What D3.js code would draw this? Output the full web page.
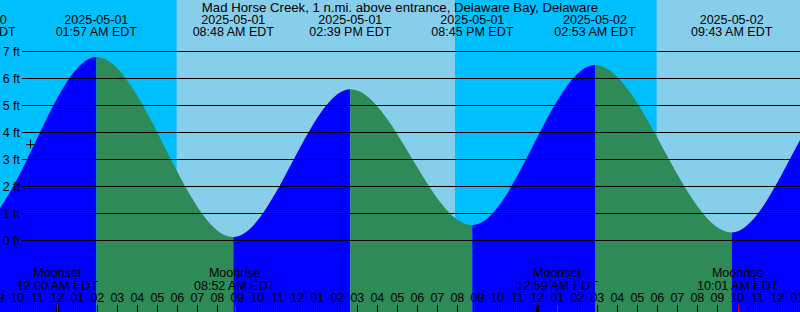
<!DOCTYPE html>
<html>
<head>
<meta charset="utf-8">
<script src="https://cdn.jsdelivr.net/npm/d3@7"></script>
<style>
  body { margin: 0; background: #fff; }
  svg { display: block; font-family: "Liberation Sans", Arial, sans-serif; font-size: 12.5px; }
</style>
</head>
<body>
<svg id="chart" width="800" height="312"></svg>
<script>
// title
const TITLE = 'Mad Horse Creek, 1 n.mi. above entrance, Delaware Bay, Delaware';

// tide extremes (local time, EDT)
const tideTimes = ['2025-04-30 13:40', '2025-04-30 19:52', '2025-05-01 01:57', '2025-05-01 08:48',
    '2025-05-01 14:39', '2025-05-01 20:45', '2025-05-02 02:53', '2025-05-02 09:43',
    '2025-05-02 15:40', '2025-05-02 21:50'];
const tideHeights = [5.5, 0.5, 6.8, 0.13, 5.6, 0.57, 6.5, 0.3, 5.9, 0.6];

// sun
const sunriseTimes = ['2025-05-01 05:58', '2025-05-02 05:58'];
const sunsetTimes = ['2025-04-30 19:52', '2025-05-01 19:53'];

// moon
const moonTimes = ['2025-05-01 00:00', '2025-05-01 08:52', '2025-05-02 00:59', '2025-05-02 10:01'];
const moonLabels = ['Moonset', 'Moonrise', 'Moonset', 'Moonrise'];

// "now" mark
const nowTime = '2025-04-30 22:38';
const nowHeight = 3.55;

const heightTicks = [0, 1, 2, 3, 4, 5, 6, 7];
const timeStart = '2025-04-30 21:08';
const timeEnd = '2025-05-02 13:08';

const WIDTH = 800;
const HEIGHT = 312;
const COLOR_NIGHT = '#00bfff';
const COLOR_DAY = '#87ceeb';
const COLOR_RISE = '#0000ff';
const COLOR_FALL = '#2e8b57';

const parse = d3.utcParse('%Y-%m-%d %H:%M');
const fmtDate = d3.utcFormat('%Y-%m-%d');
const fmtTime = d3.utcFormat('%I:%M %p EDT');
const fmtHour = d3.utcFormat('%I');

const x = d3.scaleUtc()
    .domain([parse(timeStart), parse(timeEnd)])
    .range([0, WIDTH]);
const y = d3.scaleLinear()
    .domain([0, 7])
    .range([240.5, 51.5]);

const svg = d3.select('#chart');
const defs = svg.append('defs');

// day / night background
svg.append('rect')
    .attr('width', WIDTH).attr('height', HEIGHT)
    .attr('fill', COLOR_NIGHT);
sunriseTimes.forEach(function (rise) {
    let t0 = parse(rise);
    let set = sunsetTimes.map(parse).find(d => d > t0) || x.domain()[1];
    svg.append('rect')
        .attr('x', x(t0))
        .attr('width', x(set) - x(t0))
        .attr('y', 0).attr('height', HEIGHT)
        .attr('fill', COLOR_DAY);
});

// tide curve, coloured by rising / falling
const tide = tideTimes.map((t, i) => ({ t: parse(t), h: tideHeights[i] }));
const area = d3.area()
    .x(d => x(d.t))
    .y0(HEIGHT)
    .y1(d => y(d.h))
    .curve(d3.curveMonotoneX);

for (let i = 0; i < tide.length - 1; i++) {
    let x0 = x(tide[i].t), x1 = x(tide[i + 1].t);
    defs.append('clipPath').attr('id', 'seg' + i)
        .append('rect')
        .attr('x', x0).attr('y', 0)
        .attr('width', x1 - x0).attr('height', HEIGHT);
    svg.append('path')
        .attr('d', area(tide))
        .attr('clip-path', 'url(#seg' + i + ')')
        .attr('fill', tide[i + 1].h > tide[i].h ? COLOR_RISE : COLOR_FALL);
}

// height lines
svg.selectAll('.hline')
    .data(heightTicks)
    .enter().append('line')
    .attr('x1', 22).attr('x2', WIDTH)
    .attr('y1', d => y(d)).attr('y2', d => y(d))
    .attr('stroke', '#000');
svg.selectAll('.hlabel')
    .data(heightTicks)
    .enter().append('text')
    .attr('x', 20).attr('y', d => y(d) + 4)
    .attr('text-anchor', 'end')
    .text(d => d + ' ft');

// now mark
svg.append('path')
    .attr('d', 'M' + (x(parse(nowTime)) - 4) + ',' + (y(nowHeight)) + 'h9M' + (x(parse(nowTime)) + 0.5) + ',' + (y(nowHeight) - 5) + 'v9')
    .attr('stroke', '#000')
    .attr('fill', 'none');

// title
svg.append('text')
    .attr('x', WIDTH / 2).attr('y', 12)
    .attr('text-anchor', 'middle')
    .style('font-size', '13.2px')
    .text(TITLE);

// tide event labels
tide.forEach(function (d) {
    let cx = x(d.t);
    if (cx < -60 || cx > WIDTH + 60) return;
    svg.append('text').attr('x', cx).attr('y', 24)
        .attr('text-anchor', 'middle').text(fmtDate(d.t));
    svg.append('text').attr('x', cx).attr('y', 36)
        .attr('text-anchor', 'middle').text(fmtTime(d.t));
});

// hour ticks
const hours = x.ticks(d3.utcHour.every(1));
const xAxis = svg.append('g');
xAxis.selectAll('.hour')
    .data(d3.utcHour.range(d3.utcHour.offset(x.domain()[0], -1), d3.utcHour.offset(x.domain()[1], 1)))
    .enter().append('text')
    .attr('x', d => x(d)).attr('y', 302)
    .attr('text-anchor', 'middle')
    .text(d => fmtHour(d));
xAxis.selectAll('.tick')
    .data(hours)
    .enter().append('line')
    .attr('x1', d => Math.round(x(d)) + 0.5).attr('x2', d => Math.round(x(d)) + 0.5)
    .attr('y1', 305).attr('y2', HEIGHT)
    .attr('stroke', '#000')
    .attr('stroke-width', d => d.getUTCHours() === 0 ? 3 : 1);

// moon events
moonTimes.forEach(function (m, i) {
    let t = parse(m);
    let cx = x(t);
    svg.append('line')
        .attr('x1', Math.round(cx) + 0.5).attr('x2', Math.round(cx) + 0.5)
        .attr('y1', 305).attr('y2', HEIGHT)
        .attr('stroke', '#ff0000');
    svg.append('text').attr('x', cx).attr('y', 277)
        .attr('text-anchor', 'middle').text(moonLabels[i]);
    svg.append('text').attr('x', cx).attr('y', 290)
        .attr('text-anchor', 'middle').text(fmtTime(t));
});
</script>
</body>
</html>
